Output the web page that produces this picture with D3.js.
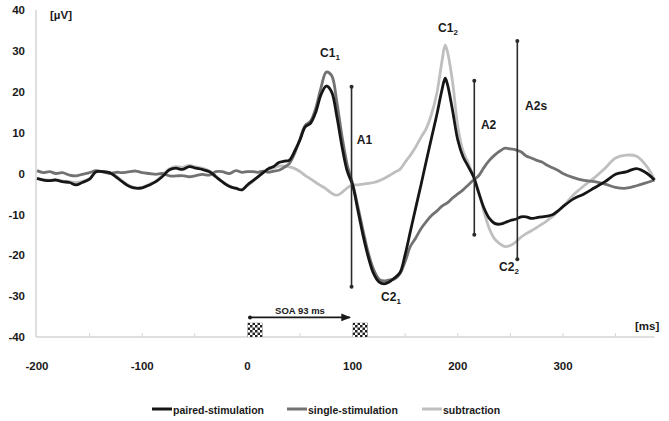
<!DOCTYPE html>
<html><head><meta charset="utf-8">
<script src="https://cdn.jsdelivr.net/npm/d3@7"></script>
<style>
body{margin:0;background:#fff}
svg{display:block}
text{font-family:"Liberation Sans",Arial,sans-serif;font-weight:bold;fill:#1a1a1a}
</style>
</head><body>
<svg id="chart" width="669" height="421"></svg>
<script>
// ---- data (ms, µV) ----
const times = [-200,-194,-188,-182,-176,-169,-163,-157,-150,-144,-138,-131,-125,-119,-112,-106,-100,-93,-87,-81,-74,-68,-62,-55,-49,-43,-36,-30,-24,-17,-11,-5,
  0,5,10,15,20,25,30,35,40,45,50,55,60,65,70,75,80,85,90,95,100,105,110,115,120,125,130,135,140,145,150,155,160,165,170,175,180,185,
  188,
  190,195,200,205,210,215,220,225,230,235,240,245,250,255,260,265,270,275,280,285,290,295,300,
  310,320,330,340,350,360,370,380,387];

const paired = [-1.2,-1.6,-1.75,-1.6,-2.0,-2.2,-2.8,-2.2,-1.4,0.45,0.45,0.2,-0.8,-2.0,-3.2,-3.6,-3.5,-2.8,-2.0,-0.8,0.9,1.3,1.0,1.7,1.3,1.0,0.45,-0.8,-2.0,-3.2,-3.6,-4.0,
  -2.8,-1.8,-0.8,0.2,1.2,1.7,2.7,3.0,3.3,5.5,8.2,11.4,12.3,15.0,19.3,21.4,20.0,14.0,6.5,0.5,-2.8,-9.0,-15.2,-20.5,-24.5,-26.5,-27.0,-26.5,-25.5,-24.3,-19.8,-14.1,-8.4,-2.8,3.0,8.7,14.3,20.5,
  23.3,
  22.0,15.5,8.2,4.1,1.7,-0.8,-4.8,-8.5,-11.0,-12.2,-12.4,-12.0,-11.5,-11.2,-10.6,-10.6,-11.0,-10.8,-10.6,-10.4,-10.1,-9.2,-8.1,
  -6.2,-5.0,-3.5,-2.0,-0.2,0.4,1.2,0.0,-1.6];

const single = [0.7,0.2,0.45,0,0.2,-0.4,-0.6,-0.2,0.2,0.7,0.45,0,0.3,0.2,0.45,0.6,0.2,0,-0.2,0,-0.6,-0.6,-0.5,-0.8,-0.5,-0.2,-0.4,0.45,0.45,0,0.7,0.3,
  0.45,0.45,0.3,0.6,0.3,0.6,0.8,1.5,2.5,5.0,8.5,11.8,12.8,16.0,21.0,24.8,24.0,17.5,9.0,2.0,-2.5,-8.0,-14.0,-19.5,-23.5,-25.8,-26.3,-26.0,-25.8,-24.5,-21.5,-17.8,-15.8,-13.5,-11.8,-10.3,-9.2,-8.0,
  -7.5,
  -7.2,-6.0,-5.0,-4.0,-2.8,-1.6,-0.5,1.5,3.2,4.5,5.5,6.2,6.0,5.8,5.3,4.3,3.8,3.2,2.8,2.0,1.4,0.8,0.0,
  -1.0,-1.7,-2.0,-2.6,-3.4,-3.6,-3.0,-2.2,-1.6];

const subtraction = [-1.3,-1.5,-1.6,-1.5,-1.8,-2.0,-2.2,-2.0,-1.2,0.3,0.5,0.2,-0.6,-1.8,-3.0,-3.5,-3.4,-2.6,-1.8,-0.5,1.2,1.7,1.5,2.0,1.6,1.3,0.6,-0.6,-2.0,-3.0,-3.7,-4.0,
  -3.0,-2.0,-0.8,0.2,1.0,1.4,1.8,1.8,1.6,1.2,0.5,-0.5,-1.3,-2.2,-3.0,-3.8,-4.8,-5.3,-4.6,-3.5,-2.8,-2.8,-2.6,-2.4,-2.2,-1.8,-1.2,-0.5,0.3,1.0,2.8,4.5,6.5,8.8,11.0,14.5,19.5,27.5,
  31.4,
  30.0,22.5,11.5,5.5,2.5,-0.8,-4.5,-9.5,-13.5,-16.0,-17.2,-17.9,-17.6,-16.8,-15.6,-14.7,-14.0,-13.2,-12.4,-11.5,-10.5,-9.3,-8.1,
  -5.2,-3.0,-1.0,1.3,3.8,4.5,4.2,1.6,-1.6];

const seriesNames = ["paired-stimulation","single-stimulation","subtraction"];
const xTicks = [-200,-100,0,100,200,300];
const xMinorTicks = [-150,-100,-50,0,50,100,150,200,250,300,350];
const yTicks = [40,30,20,10,0,-10,-20,-30,-40];

// amplitude bars
const ampLabels = ["A1","A2","A2s"];
const ampTimes = [99,215.7,256.6];
const ampTops = [21.2,22.7,32.4];
const ampBottoms = [-27.7,-15.0,-21.0];
const ampLabelT = [104,222,264];
const ampLabelV = [8.2,11.9,16.5];

// component labels
const compMain = ["C1","C1","C2","C2"];
const compSub = ["1","2","1","2"];
const compT = [78.5,190.7,136.5,248.7];
const compV = [29.5,35.6,-30.2,-22.9];

// stimulus markers (ms) and SOA
const stimStart = [0,100];
const stimDur = 14.5;
const soaFrom = 2.5, soaTo = 97.5, soaLevel = -35.2;

// ---- drawing ----
const svg = d3.select("#chart");
const x = d3.scaleLinear().domain([-200,387]).range([37,654.5]);
const y = d3.scaleLinear().domain([-40,40]).range([337,10]);

const colors = {"paired-stimulation":"#161616","single-stimulation":"#727272","subtraction":"#bfbfbf"};
const dataBy = {"paired-stimulation":paired,"single-stimulation":single,"subtraction":subtraction};

const defs = svg.append("defs");
const pat = defs.append("pattern").attr("id","chk").attr("patternUnits","userSpaceOnUse")
  .attr("width",5).attr("height",5);
pat.append("rect").attr("width",5).attr("height",5).attr("fill","#fff");
pat.append("rect").attr("width",2.5).attr("height",2.5).attr("fill","#222");
pat.append("rect").attr("x",2.5).attr("y",2.5).attr("width",2.5).attr("height",2.5).attr("fill","#222");

// axes
const axisColor = "#d4d4d4";
svg.append("line").attr("x1",x(-200)-1).attr("x2",x(-200)-1).attr("y1",y(40)).attr("y2",y(-40))
  .attr("stroke",axisColor).attr("stroke-width",1.5);
svg.append("line").attr("x1",x(-200)-1).attr("x2",x(387)).attr("y1",y(-40)).attr("y2",y(-40))
  .attr("stroke",axisColor).attr("stroke-width",1.5);
svg.append("g").selectAll("line").data(xMinorTicks).join("line")
  .attr("x1",d=>x(d)).attr("x2",d=>x(d)).attr("y1",y(-40)).attr("y2",y(-40)-4)
  .attr("stroke",axisColor).attr("stroke-width",1);

svg.append("g").selectAll("text").data(yTicks).join("text")
  .attr("x",25).attr("y",d=>y(d)).attr("dy","0.36em").attr("text-anchor","end")
  .attr("font-size",11.5).text(d=>d);
svg.append("g").selectAll("text").data(xTicks).join("text")
  .attr("x",d=>x(d)).attr("y",366).attr("dy","0.36em").attr("text-anchor","middle")
  .attr("font-size",11.5).text(d=>d);
svg.append("text").attr("x",50).attr("y",15).attr("dy","0.36em").attr("font-size",11.5).text("[µV]");
svg.append("text").attr("x",635).attr("y",326).attr("dy","0.36em").attr("font-size",11.5).text("[ms]");

// series
const line = d3.line().x((d,i)=>x(times[i])).y(d=>y(d)).curve(d3.curveCatmullRom.alpha(0.5));
["subtraction","single-stimulation","paired-stimulation"].forEach(name=>{
  svg.append("path").datum(dataBy[name]).attr("d",line)
    .attr("fill","none").attr("stroke",colors[name]).attr("stroke-width",2.8)
    .attr("stroke-linejoin","round");
});

// amplitude bars
ampLabels.forEach((lab,i)=>{
  const g = svg.append("g");
  g.append("line").attr("x1",x(ampTimes[i])).attr("x2",x(ampTimes[i]))
    .attr("y1",y(ampTops[i])).attr("y2",y(ampBottoms[i])).attr("stroke","#2a2a2a").attr("stroke-width",1.6);
  [ampTops[i],ampBottoms[i]].forEach(v=>g.append("circle").attr("cx",x(ampTimes[i])).attr("cy",y(v)).attr("r",2).attr("fill","#2a2a2a"));
  g.append("text").attr("x",x(ampLabelT[i])).attr("y",y(ampLabelV[i])).attr("dy","0.36em")
    .attr("font-size",12).text(lab);
});

// component labels
compMain.forEach((m,i)=>{
  const t = svg.append("text").attr("x",x(compT[i])).attr("y",y(compV[i])).attr("dy","0.36em")
    .attr("text-anchor","middle").attr("font-size",12);
  t.append("tspan").text(m);
  t.append("tspan").attr("font-size",8).attr("dy","3").text(compSub[i]);
});

// stimulus boxes
svg.append("g").selectAll("rect").data(stimStart).join("rect")
  .attr("x",d=>x(d)).attr("width",d=>x(d+stimDur)-x(d))
  .attr("y",y(-36.5)).attr("height",y(-40)-y(-36.5)).attr("fill","url(#chk)");

// SOA arrow
defs.append("marker").attr("id","arr").attr("viewBox","0 0 10 10").attr("refX",9).attr("refY",5)
  .attr("markerWidth",6).attr("markerHeight",6).attr("orient","auto")
  .append("path").attr("d","M0,1 L10,5 L0,9 Z").attr("fill","#1a1a1a");
svg.append("line").attr("x1",x(soaFrom)).attr("x2",x(soaTo)).attr("y1",y(soaLevel)).attr("y2",y(soaLevel))
  .attr("stroke","#1a1a1a").attr("stroke-width",1.6).attr("marker-end","url(#arr)");
svg.append("circle").attr("cx",x(soaFrom)).attr("cy",y(soaLevel)).attr("r",2).attr("fill","#1a1a1a");
svg.append("text").attr("x",(x(soaFrom)+x(soaTo))/2).attr("y",y(soaLevel)-7).attr("dy","0.36em")
  .attr("text-anchor","middle").attr("font-size",9.5).text("SOA 93 ms");

// legend
const legX = [152,287,422];
seriesNames.forEach((n,i)=>{
  svg.append("line").attr("x1",legX[i]).attr("x2",legX[i]+20).attr("y1",409).attr("y2",409)
    .attr("stroke",colors[n]).attr("stroke-width",3);
  svg.append("text").attr("x",legX[i]+21).attr("y",410).attr("dy","0.36em").attr("font-size",10.5).text(n);
});
</script>
</body></html>
